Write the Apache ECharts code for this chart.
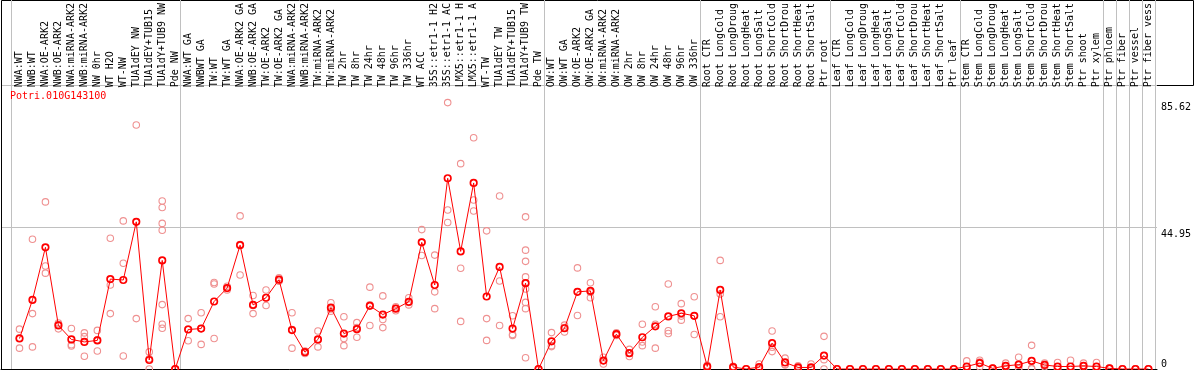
<!DOCTYPE html>
<html>
<head>
<meta charset="utf-8">
<script src="https://cdn.jsdelivr.net/npm/echarts@6/dist/echarts.min.js"></script>
<style>html,body{margin:0;padding:0;background:#fff;}#c{width:1194px;height:370px;}</style>
</head>
<body>
<div id="c"></div>
<script>
const geneName = 'Potri.010G143100';

const categories = [
  'NWA:WT','NWB:WT','NWA:OE-ARK2','NWB:OE-ARK2','NWA:miRNA-ARK2','NWB:miRNA-ARK2','NW 0hr','WT H2O','WT-NW','TUA1dEY NW','TUA1dEY+TUB15','TUA1dY+TUB9 NW','Pde NW',
  'NWA:WT GA','NWBWT GA','TW:WT','TW:WT GA','NWA:OE-ARK2 GA','NWB:OE-ARK2 GA','TW:OE-ARK2','TW:OE-ARK2 GA','NWA:miRNA-ARK2','NWB:miRNA-ARK2','TW:miRNA-ARK2','TW:miRNA-ARK2','TW 2hr','TW 8hr','TW 24hr','TW 48hr','TW 96hr','TW 336hr','WT ACC','35S::etr1-1 H2','35S::etr1-1 AC','LMX5::etr1-1 H','LMX5::etr1-1 A','WT-TW','TUA1dEY TW','TUA1dEY+TUB15','TUA1dY+TUB9 TW','Pde TW',
  'OW:WT','OW:WT GA','OW:OE-ARK2','OW:OE-ARK2 GA','OW:miRNA-ARK2','OW:miRNA-ARK2','OW 2hr','OW 8hr','OW 24hr','OW 48hr','OW 96hr','OW 336hr',
  'Root CTR','Root LongCold','Root LongDroug','Root LongHeat','Root LongSalt','Root ShortCold','Root ShortDrou','Root ShortHeat','Root ShortSalt','Ptr root',
  'Leaf CTR','Leaf LongCold','Leaf LongDroug','Leaf LongHeat','Leaf LongSalt','Leaf ShortCold','Leaf ShortDrou','Leaf ShortHeat','Leaf ShortSalt','Ptr leaf',
  'Stem CTR','Stem LongCold','Stem LongDroug','Stem LongHeat','Stem LongSalt','Stem ShortCold','Stem ShortDrou','Stem ShortHeat','Stem ShortSalt','Ptr shoot','Ptr xylem',
  'Ptr phloem','Ptr fiber','Ptr vessel','Ptr fiber vess'
];

const meanValues = [
  9.8, 22.2, 39.1, 14.0, 9.5, 8.7, 9.2, 28.9, 28.6, 47.3, 2.9, 34.9, 0,
  12.7, 13.0, 21.7, 26.0, 39.8, 20.6, 22.9, 28.7, 12.5, 5.4, 9.5, 19.7, 11.4, 12.8, 20.3, 17.5, 19.4, 21.6, 40.7, 27.0, 61.3, 37.8, 59.8, 23.3, 32.8, 13.0, 27.6, 0,
  8.9, 13.1, 24.8, 25.1, 2.7, 11.2, 5.1, 10.2, 13.7, 16.9, 17.9, 17.1,
  0.8, 25.4, 0.6, 0, 0.6, 8.3, 2.1, 0.5, 0.5, 4.3,
  0, 0, 0, 0, 0, 0, 0, 0, 0, 0,
  0.8, 1.9, 0.2, 1.0, 1.4, 2.6, 1.3, 0.8, 0.8, 1.0, 0.8,
  0.2, 0, 0, 0
];

const replicateValues = [
  [12.8, 10.0, 6.7], [41.7, 17.8, 7.1], [53.7, 33.1, 30.8], [14.8, 14.3, 12.9], [13.0, 7.8, 7.4],
  [11.6, 10.4, 4.1], [12.4, 9.4, 5.8], [42.0, 27.0, 17.8], [47.6, 34.0, 4.2], [78.4, 47.3, 16.2],
  [5.5, 3.3, 0], [54.0, 51.9, 46.8, 44.6, 20.7, 14.4, 13.1], [0, 0, 0],
  [16.2, 12.8, 9.1], [18.1, 13.0, 7.9], [27.8, 27.3, 9.8], [26.6, 26.0, 25.4], [49.2, 40.0, 30.2],
  [23.6, 20.4, 17.8], [25.4, 22.9, 20.4], [29.3, 28.7, 28.2], [18.1, 12.7, 6.7], [5.8, 5.4, 5.0],
  [12.2, 9.3, 7.1], [21.3, 19.3, 18.6], [16.8, 9.8, 7.5], [14.9, 13.3, 10.2], [26.3, 20.6, 14.0],
  [23.5, 15.9, 13.3], [20.0, 19.5, 18.7], [22.9, 21.4, 20.6], [44.8, 40.8, 36.5], [36.6, 24.8, 19.4],
  [85.62, 51.1, 47.1], [66.0, 32.4, 15.3], [74.3, 54.3, 50.8], [44.4, 16.2, 9.2], [55.6, 28.3, 14.0],
  [17.1, 11.1, 10.8], [48.9, 38.2, 34.6, 29.6, 25.7, 21.4, 19.4, 3.6], [0, 0, 0],
  [11.7, 7.5, 7.2], [14.1, 13.3, 11.9], [32.5, 24.8, 17.2], [27.7, 24.7, 22.9], [3.8, 2.7, 1.6],
  [11.6, 11.2, 10.8], [6.3, 5.1, 4.0], [14.4, 8.7, 7.5], [20.0, 14.4, 6.7], [27.3, 12.3, 11.4],
  [21.0, 17.0, 15.7], [23.2, 17.0, 11.1],
  [1.2, 0.8, 0.4], [34.9, 24.1, 16.8], [0.9, 0.6, 0.3], [0, 0, 0], [1.6, 0.2, 0],
  [12.2, 7.0, 5.6], [3.5, 1.4, 1.4], [1.0, 0.4, 0.1], [1.6, 0, 0], [10.5, 3.0, 0],
  [0, 0, 0], [0, 0, 0], [0, 0, 0], [0, 0, 0], [0, 0, 0], [0, 0, 0], [0, 0, 0], [0, 0, 0], [0, 0, 0], [0, 0, 0],
  [2.6, 0, 0], [2.8, 2.2, 0.7], [0.3, 0.2, 0.1], [1.9, 0.9, 0.2], [3.8, 0.3, 0.1],
  [7.6, 0.2, 0], [1.9, 1.3, 0.7], [2.1, 0.2, 0.1], [2.8, 0, 0], [1.9, 1.0, 0.1], [2.1, 0.2, 0.1],
  [0.3, 0.2, 0.1], [0, 0, 0], [0, 0, 0], [0, 0, 0]
];

const groupBounds = [0, 13, 41, 53, 63, 73, 84, 85, 86, 87, 88];
const yTickLabels = [0, 44.95, 85.62];
const yGridStep = 44.95;
const yMax = 89.9;

const FONT = 'DejaVu Sans Mono';

const scatterData = [];
replicateValues.forEach((arr, i) => arr.forEach(v => scatterData.push([i, v])));
const boundaryTicks = Array.from({length: categories.length + 1}, (_, i) => String(i));

const chart = echarts.init(document.getElementById('c'), null, {renderer: 'canvas'});
chart.setOption({
  animation: false,
  backgroundColor: '#fff',
  title: {
    text: geneName, left: 10, top: 91, padding: 0,
    textStyle: {color: '#ff0000', fontSize: 10, fontFamily: FONT, fontWeight: 'normal'}
  },
  grid: [
    {left: 1.5, right: 0.5, top: 0.5, height: 85, show: true, borderColor: '#000', borderWidth: 1, backgroundColor: 'transparent'},
    {left: 11, width: 1144, top: 0, bottom: 1},
    {left: 13, width: 1144, top: 85, bottom: 1},
    {left: 1, width: 1156, top: 85, bottom: 1}
  ],
  xAxis: [
    {gridIndex: 0, type: 'value', show: false},
    {gridIndex: 1, type: 'category', data: boundaryTicks, boundaryGap: false,
      axisLine: {show: false}, axisTick: {show: false}, axisLabel: {show: false},
      splitLine: {show: true, interval: (idx) => groupBounds.includes(idx), lineStyle: {color: '#c0c0c0', width: 1}}},
    {gridIndex: 2, type: 'category', data: categories, position: 'top', boundaryGap: true,
      axisLine: {show: false}, axisTick: {show: false}, splitLine: {show: false},
      axisLabel: {interval: 0, rotate: 90, margin: 2, color: '#000', fontSize: 10, fontFamily: FONT}},
    {gridIndex: 3, type: 'value', min: 0, max: 1, position: 'bottom',
      axisLine: {show: true, lineStyle: {color: '#000', width: 1}}, axisTick: {show: false}, axisLabel: {show: false}, splitLine: {show: false}}
  ],
  yAxis: [
    {gridIndex: 0, type: 'value', show: false},
    {gridIndex: 1, type: 'value', show: false, min: 0, max: 1},
    {gridIndex: 2, type: 'value', min: 0, max: yMax, position: 'right',
      axisLine: {show: false}, axisTick: {show: false}, splitLine: {show: false},
      axisLabel: {customValues: yTickLabels.filter(v => v > 0), verticalAlign: 'top', margin: 6, color: '#000', fontSize: 10, fontFamily: FONT,
        formatter: (v) => String(v)}},
    {gridIndex: 2, type: 'value', min: 0, max: yMax, position: 'right',
      axisLine: {show: false}, axisTick: {show: false}, splitLine: {show: false},
      axisLabel: {customValues: yTickLabels.filter(v => v === 0), verticalAlign: 'bottom', margin: 6, color: '#000', fontSize: 10, fontFamily: FONT,
        formatter: (v) => String(v)}},
    {gridIndex: 3, type: 'value', min: 0, max: yMax, interval: yGridStep, position: 'left',
      axisLine: {show: true, lineStyle: {color: '#000', width: 1}}, axisTick: {show: false}, axisLabel: {show: false},
      splitLine: {show: true, lineStyle: {color: '#c0c0c0', width: 1}}}
  ],
  series: [
    {type: 'scatter', xAxisIndex: 2, yAxisIndex: 2, data: scatterData, z: 2,
      symbol: 'circle', symbolSize: 6.5,
      itemStyle: {color: 'rgba(255,255,255,0)', borderColor: '#ef9191', borderWidth: 1.1, opacity: 1}},
    {type: 'line', xAxisIndex: 2, yAxisIndex: 2, data: meanValues, z: 3,
      symbol: 'circle', symbolSize: 6.5, showSymbol: true, showAllSymbol: true,
      lineStyle: {color: '#ff0000', width: 1},
      itemStyle: {color: 'rgba(255,255,255,0)', borderColor: '#ff0000', borderWidth: 1.7}}
  ]
});
</script>
</body>
</html>
